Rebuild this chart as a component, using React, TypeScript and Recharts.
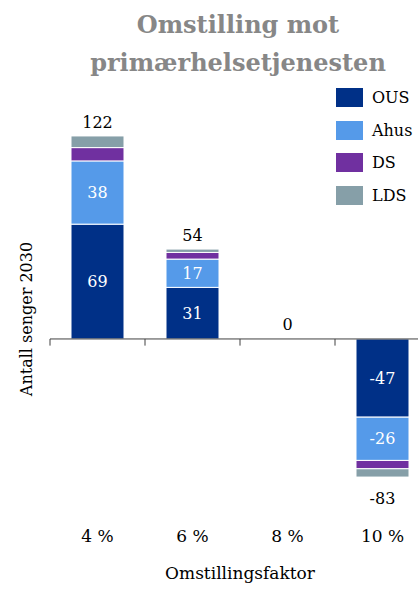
import { Bar, BarChart, LabelList, Legend, ReferenceDot, ReferenceLine, XAxis, YAxis } from "recharts";

const categories = ["4 %", "6 %", "8 %", "10 %"];
const ous = [69, 31, 0, -47];
const ahus = [38, 17, 0, -26];
const ds = [8, 4, 0, -5];
const lds = [7, 2, 0, -5];
const totals = [122, 54, 0, -83];

const FONT = "'DejaVu Serif', 'Liberation Serif', serif";

const series = [
  { key: "ous", name: "OUS", color: "#003087" },
  { key: "ahus", name: "Ahus", color: "#559AE9" },
  { key: "ds", name: "DS", color: "#7030A0" },
  { key: "lds", name: "LDS", color: "#869FA8" },
];

const data = categories.map((cat, i) => ({
  cat,
  ous: ous[i],
  ahus: ahus[i],
  ds: ds[i],
  lds: lds[i],
  total: totals[i],
}));

function InsideLabel(props: any) {
  const { x, y, width, height, value } = props;
  if (!value) return null;
  return (
    <text
      x={x + width / 2}
      y={y + height / 2}
      textAnchor="middle"
      dominantBaseline="central"
      fill="#fff"
      fontSize={16}
      fontFamily={FONT}
    >
      {value}
    </text>
  );
}

function TotalLabel(props: any) {
  const { x, y, width, height, value } = props;
  if (!value) return null;
  const top = Math.min(y, y + height);
  const bottom = Math.max(y, y + height);
  const ty = value > 0 ? top - 8 : bottom + 27;
  return (
    <text x={x + width / 2} y={ty} textAnchor="middle" fill="#000" fontSize={16} fontFamily={FONT}>
      {value}
    </text>
  );
}

// legend drawn in series order (recharts sorts by name otherwise)
function LegendBox() {
  return (
    <div style={{ fontFamily: FONT, fontSize: 16 }}>
      {series.map((s) => (
        <div key={s.key} style={{ display: "flex", alignItems: "center", height: 32.7 }}>
          <span style={{ width: 27, height: 19, background: s.color, marginRight: 9 }} />
          <span>{s.name}</span>
        </div>
      ))}
    </div>
  );
}

export default function App() {
  return (
    <div style={{ position: "absolute", left: 0, top: 0, width: 418, height: 589, overflow: "hidden", background: "#fff" }}>
      <div
        style={{
          position: "absolute",
          left: 58,
          width: 360,
          top: 6,
          textAlign: "center",
          fontFamily: FONT,
          fontWeight: "bold",
          fontSize: 24,
          lineHeight: "38px",
          color: "#878787",
        }}
      >
        Omstilling mot
        <br />
        primærhelsetjenesten
      </div>
      <BarChart
        width={440}
        height={589}
        data={data}
        margin={{ top: 106, right: 10, bottom: 7, left: 0 }}
        barSize={53}
        style={{ fontFamily: FONT }}
      >
        <YAxis
          domain={[-110, 140]}
          allowDataOverflow
          width={50}
          tick={false}
          axisLine={false}
          tickLine={false}
          label={{ value: "Antall senger 2030", angle: -90, position: "center", dx: 1, dy: 5, fill: "#000", fontSize: 16 }}
        />
        <XAxis
          dataKey="cat"
          height={60}
          axisLine={false}
          tickLine={false}
          tick={{ fill: "#000", fontSize: 17 }}
          label={{ value: "Omstillingsfaktor", position: "insideBottom", offset: 3, fill: "#000", fontSize: 17 }}
        />
        <Legend
          layout="vertical"
          align="center"
          verticalAlign="middle"
          wrapperStyle={{ top: 81, left: 336, width: 82 }}
          content={() => <LegendBox />}
        />
        {series.map((s) => (
          <Bar
            key={s.key}
            dataKey={s.key}
            name={s.name}
            stackId="a"
            fill={s.color}
            stroke="#fff"
            strokeWidth={1}
            isAnimationActive={false}
          >
            {(s.key === "ous" || s.key === "ahus") && <LabelList dataKey={s.key} content={InsideLabel} />}
            {s.key === "lds" && <LabelList dataKey="total" content={TotalLabel} />}
          </Bar>
        ))}
        <ReferenceLine y={0} stroke="#404040" strokeWidth={1} />
        {categories.map((c) => (
          <ReferenceLine
            key={c}
            segment={[
              { x: c, y: 0 },
              { x: c, y: -4 },
            ]}
            position="start"
            stroke="#404040"
            strokeWidth={1}
          />
        ))}
        {categories.map((c, i) =>
          totals[i] === 0 ? (
            <ReferenceDot
              key={"zero" + c}
              x={c}
              y={0}
              r={1}
              fill="none"
              stroke="none"
              label={{ value: "0", position: "top", offset: 8, fill: "#000", fontSize: 16 }}
            />
          ) : null
        )}
      </BarChart>
    </div>
  );
}
